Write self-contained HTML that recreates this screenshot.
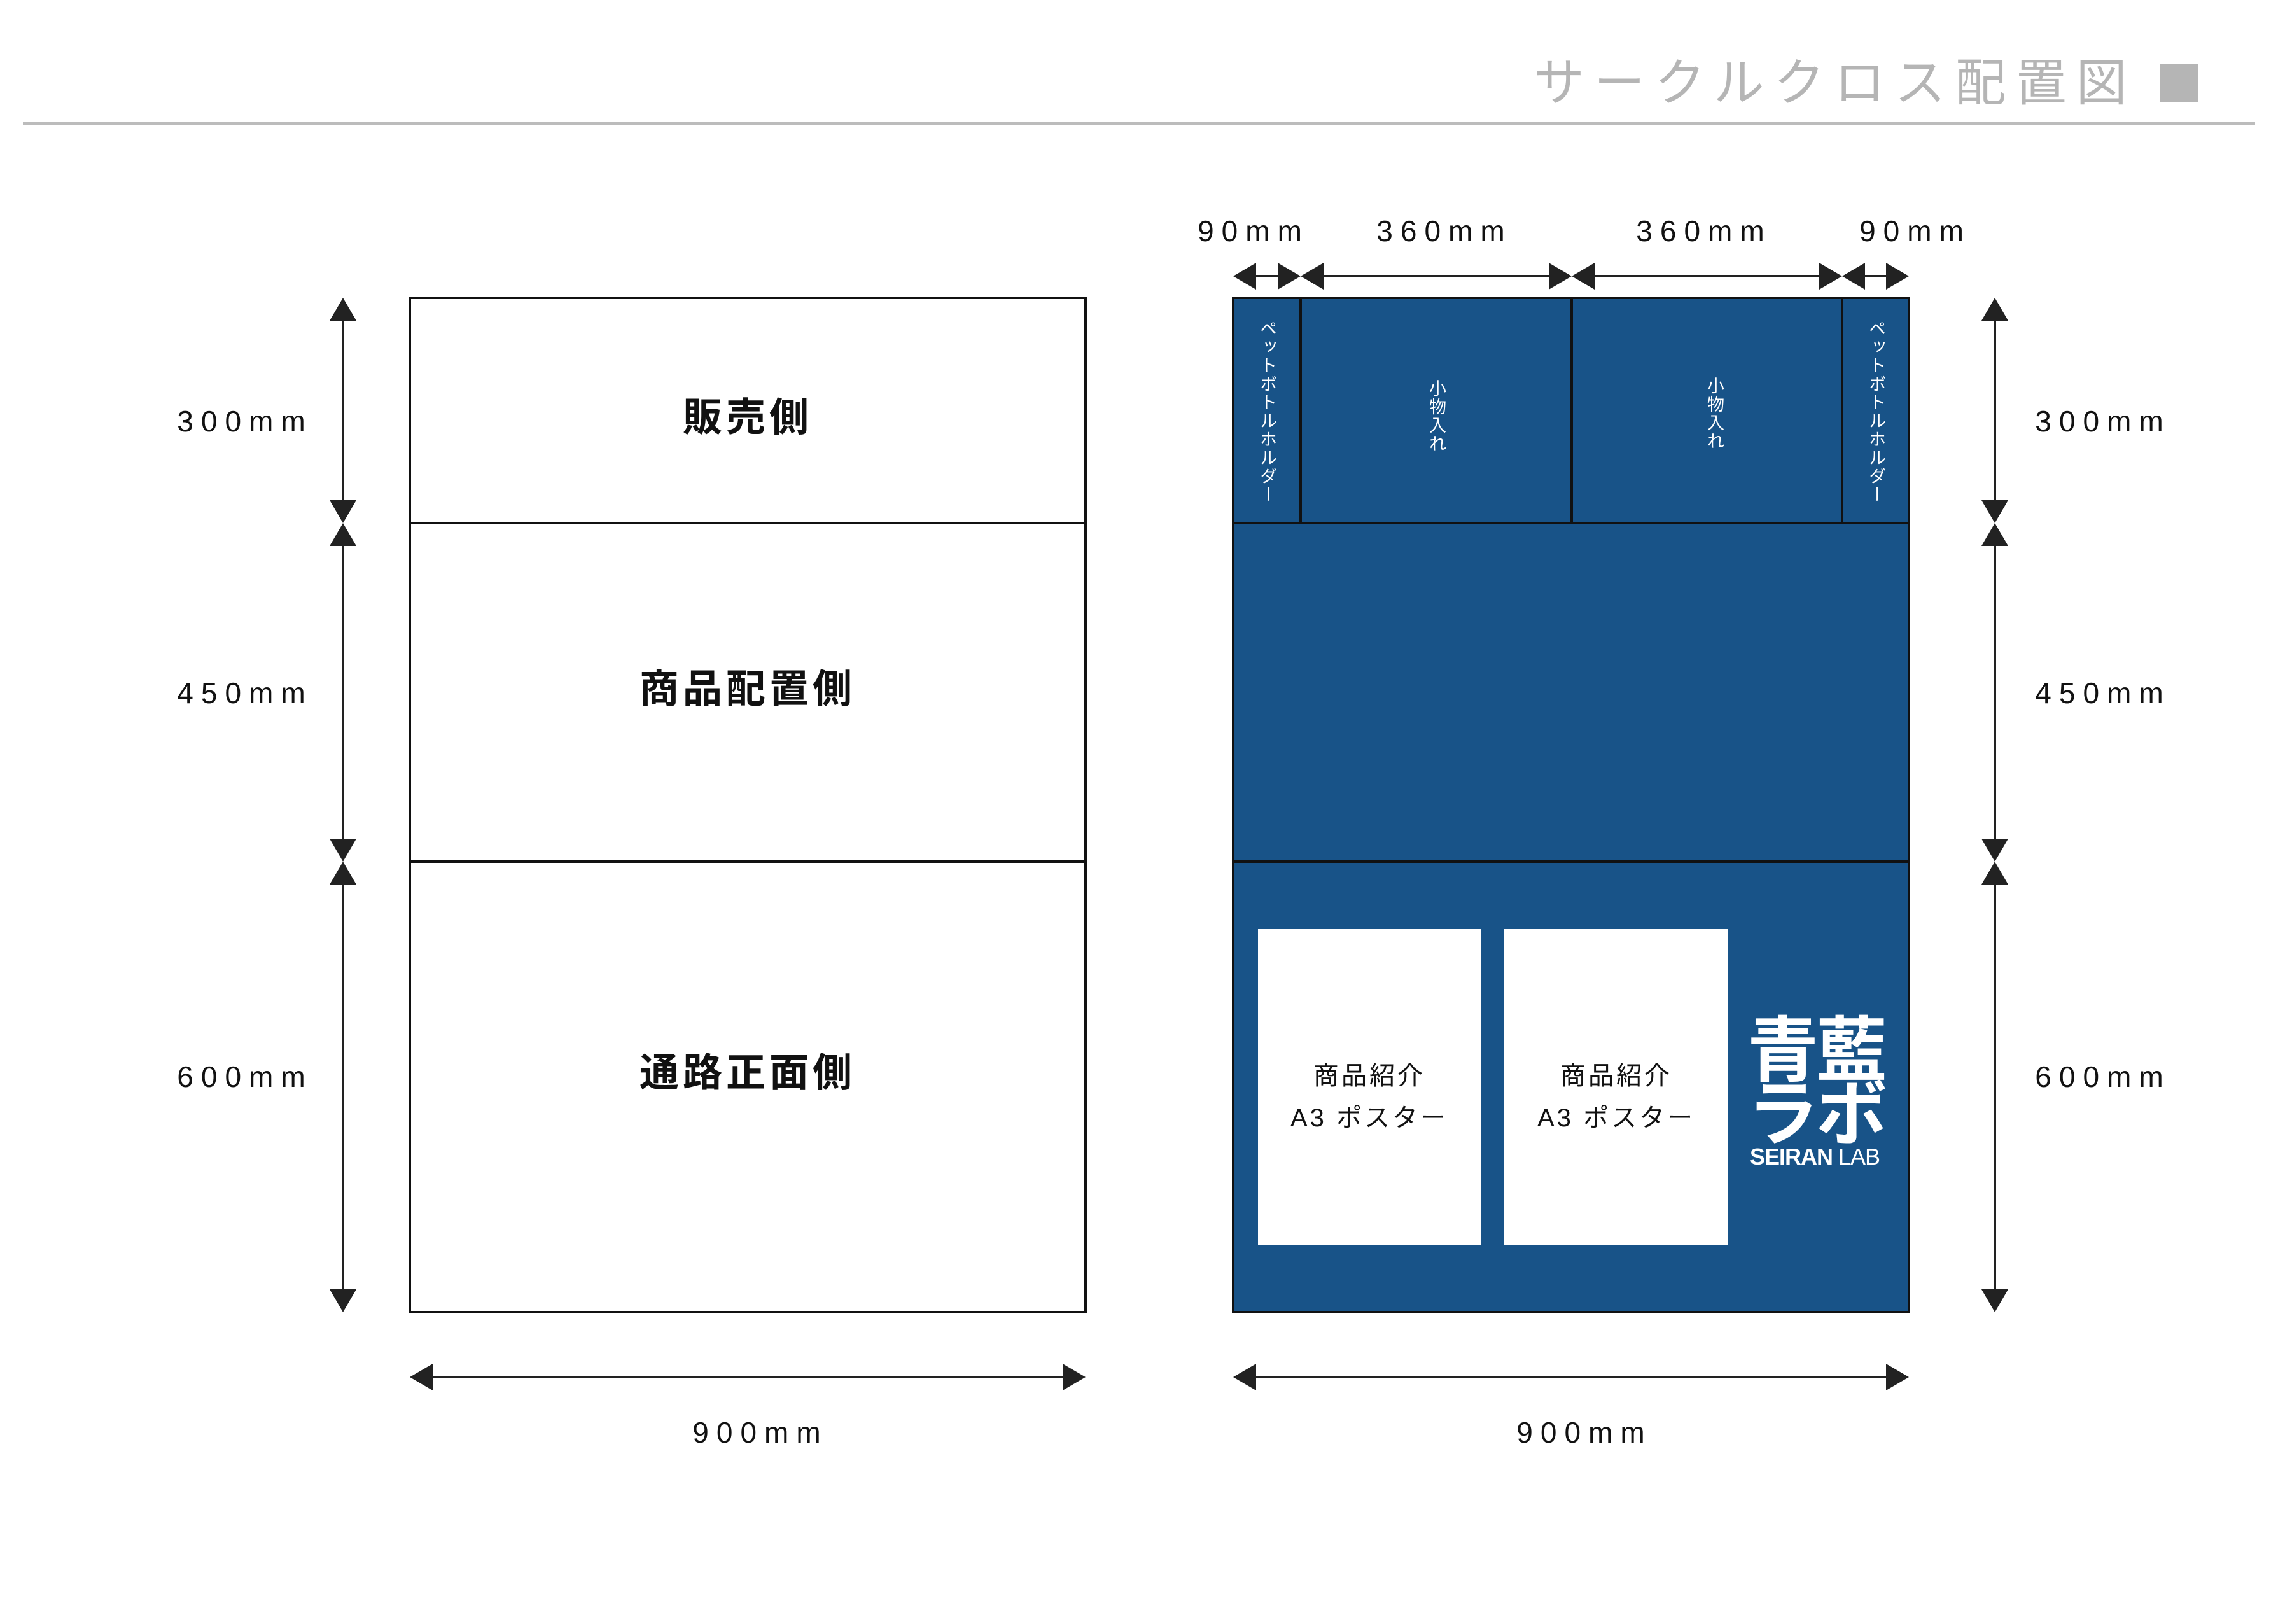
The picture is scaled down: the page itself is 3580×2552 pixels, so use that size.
<!DOCTYPE html>
<html><head><meta charset="utf-8"><style>
html,body{margin:0;padding:0;background:#fff;}
svg{display:block;}
text{font-family:"Liberation Sans","Noto Sans CJK JP",sans-serif;}
</style></head><body>
<svg width="3580" height="2552" viewBox="0 0 3580 2552" xmlns="http://www.w3.org/2000/svg">
<!-- header -->
<text x="2410" y="158" font-size="80" fill="#b5b5b5" letter-spacing="15">サークルクロス配置図</text>
<rect x="3395" y="100" width="60" height="60" fill="#b5b5b5"/>
<rect x="36" y="192" width="3508" height="4" fill="#bcbcbc"/>

<!-- left box -->
<rect x="644" y="468" width="1062" height="1594" fill="#fff" stroke="#111" stroke-width="4"/>
<line x1="644" y1="822" x2="1706" y2="822" stroke="#111" stroke-width="4"/>
<line x1="644" y1="1354" x2="1706" y2="1354" stroke="#111" stroke-width="4"/>
<g font-size="62" fill="#111" text-anchor="middle" font-weight="bold" letter-spacing="6">
<text x="1175" y="677">販売側</text>
<text x="1175" y="1104">商品配置側</text>
<text x="1175" y="1707">通路正面側</text>
</g>

<!-- right box -->
<rect x="1938" y="468" width="1062" height="1594" fill="#185388" stroke="#111" stroke-width="4"/>
<line x1="1938" y1="822" x2="3000" y2="822" stroke="#111" stroke-width="4"/>
<line x1="1938" y1="1354" x2="3000" y2="1354" stroke="#111" stroke-width="4"/>
<line x1="2044" y1="468" x2="2044" y2="822" stroke="#111" stroke-width="4"/>
<line x1="2470" y1="468" x2="2470" y2="822" stroke="#111" stroke-width="4"/>
<line x1="2895" y1="468" x2="2895" y2="822" stroke="#111" stroke-width="4"/>
<g font-size="27" fill="#fff" letter-spacing="2">
<text x="1991" y="502" style="writing-mode:vertical-rl">ペットボトルホルダー</text>
<text x="2948" y="502" style="writing-mode:vertical-rl">ペットボトルホルダー</text>
<text x="2257" y="596" style="writing-mode:vertical-rl">小物入れ</text>
<text x="2694" y="592" style="writing-mode:vertical-rl">小物入れ</text>
</g>
<rect x="1977" y="1460" width="351" height="497" fill="#fff"/>
<rect x="2364" y="1460" width="351" height="497" fill="#fff"/>
<g font-size="40" fill="#111" text-anchor="middle" letter-spacing="4">
<text x="2152" y="1704">商品紹介</text>
<text x="2152" y="1770">A3 ポスター</text>
<text x="2540" y="1704">商品紹介</text>
<text x="2540" y="1770">A3 ポスター</text>
</g>
<g fill="#fff" font-weight="bold" text-anchor="middle">
<text x="2854" y="1690" font-size="112" letter-spacing="-4">青藍</text>
<text x="2854" y="1790" font-size="112" letter-spacing="-4">ラボ</text>
<text x="2852" y="1830" font-size="36" letter-spacing="-1">SEIRAN<tspan font-weight="normal"> LAB</tspan></text>
</g>

<!-- arrows -->
<g stroke="#222" stroke-width="4">
<line x1="539" y1="490" x2="539" y2="800"/>
<line x1="539" y1="844" x2="539" y2="1332"/>
<line x1="539" y1="1376" x2="539" y2="2040"/>
<line x1="3135" y1="490" x2="3135" y2="800"/>
<line x1="3135" y1="844" x2="3135" y2="1332"/>
<line x1="3135" y1="1376" x2="3135" y2="2040"/>
<line x1="666" y1="2164" x2="1684" y2="2164"/>
<line x1="1960" y1="2164" x2="2978" y2="2164"/>
<line x1="1960" y1="434" x2="2022" y2="434"/>
<line x1="2066" y1="434" x2="2448" y2="434"/>
<line x1="2492" y1="434" x2="2873" y2="434"/>
<line x1="2917" y1="434" x2="2978" y2="434"/>
</g>
<g fill="#222">
<polygon points="539,468 518,504 560,504"/><polygon points="539,822 518,786 560,786"/>
<polygon points="539,822 518,858 560,858"/><polygon points="539,1354 518,1318 560,1318"/>
<polygon points="539,1354 518,1390 560,1390"/><polygon points="539,2062 518,2026 560,2026"/>
<polygon points="3135,468 3114,504 3156,504"/><polygon points="3135,822 3114,786 3156,786"/>
<polygon points="3135,822 3114,858 3156,858"/><polygon points="3135,1354 3114,1318 3156,1318"/>
<polygon points="3135,1354 3114,1390 3156,1390"/><polygon points="3135,2062 3114,2026 3156,2026"/>
<polygon points="644,2164 680,2143 680,2185"/><polygon points="1706,2164 1670,2143 1670,2185"/>
<polygon points="1938,2164 1974,2143 1974,2185"/><polygon points="3000,2164 2964,2143 2964,2185"/>
<polygon points="1938,434 1974,413 1974,455"/><polygon points="2044,434 2008,413 2008,455"/>
<polygon points="2044,434 2080,413 2080,455"/><polygon points="2470,434 2434,413 2434,455"/>
<polygon points="2470,434 2506,413 2506,455"/><polygon points="2895,434 2859,413 2859,455"/>
<polygon points="2895,434 2931,413 2931,455"/><polygon points="3000,434 2964,413 2964,455"/>
</g>

<!-- dimension labels -->
<g font-size="46" fill="#111" text-anchor="middle" letter-spacing="12">
<text x="385" y="678">300mm</text>
<text x="385" y="1105">450mm</text>
<text x="385" y="1708">600mm</text>
<text x="3305" y="678">300mm</text>
<text x="3305" y="1105">450mm</text>
<text x="3305" y="1708">600mm</text>
<text x="1195" y="2267">900mm</text>
<text x="2490" y="2267">900mm</text>
<text x="1970" y="379">90mm</text>
<text x="2270" y="379">360mm</text>
<text x="2678" y="379">360mm</text>
<text x="3010" y="379">90mm</text>
</g>
</svg>
</body></html>
